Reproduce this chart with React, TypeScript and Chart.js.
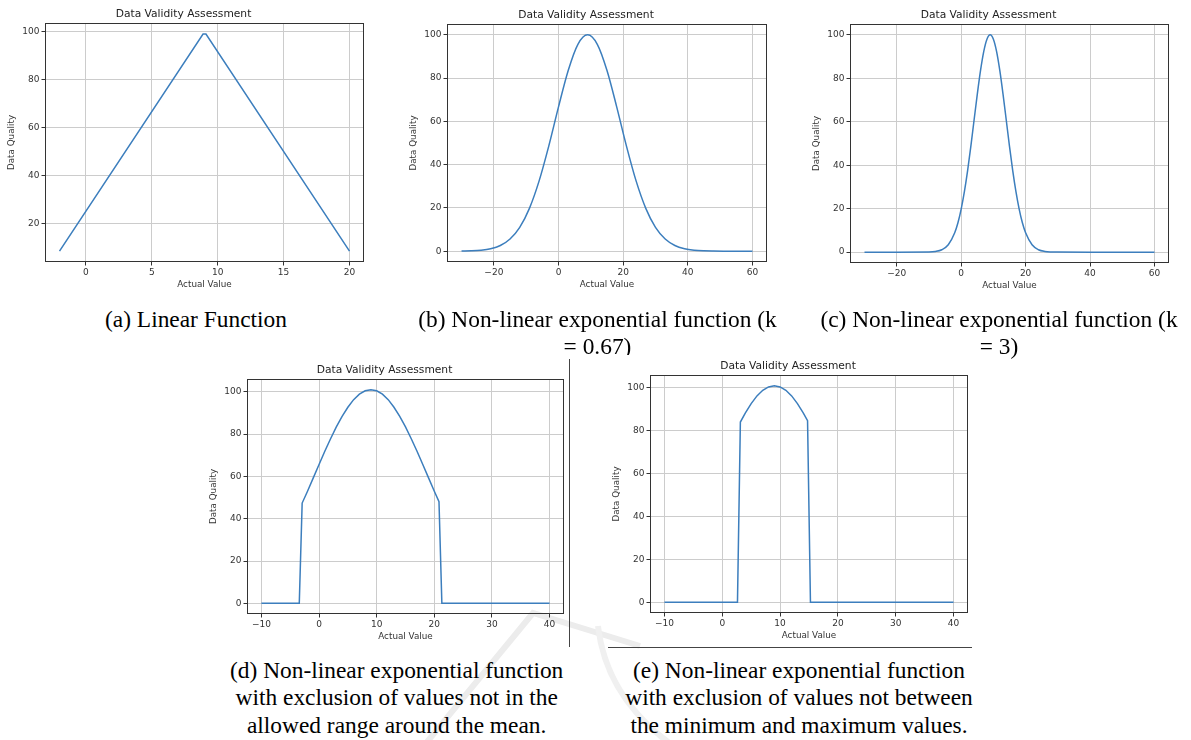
import React, { useEffect, useRef } from 'react';
import { Chart, registerables } from 'chart.js';

Chart.register(...registerables);
Chart.defaults.font.family = "'DejaVu Sans', sans-serif";

// ---------------- data ----------------
// (a) Linear function
const aX = [-2, 8.89, 9.11, 20];
const aY = [8.3, 99.1, 99.1, 8.3];

// (b) Non-linear exponential function (k = 0.67)
const bX = [-30, -27, -24, -21, -18, -15, -12, -9, -6, -3, 0, 3, 6, 9, 12, 15, 18, 21, 24, 27, 30, 33, 36, 39, 42, 45, 48, 51, 54, 57, 60];
const bY = [0.05, 0.15, 0.43, 1.11, 2.61, 5.6, 11.0, 19.8, 32.5, 48.7, 66.7, 83.5, 95.6, 100, 95.6, 83.5, 66.7, 48.7, 32.5, 19.8, 11.0, 5.6, 2.61, 1.11, 0.43, 0.15, 0.05, 0.01, 0, 0, 0];

// (c) Non-linear exponential function (k = 3)
const cX = [-30, -20, -10, -8, -6, -4, -2, -1, 0, 1, 2, 3, 4, 5, 6, 7, 8, 9, 10, 11, 12, 13, 14, 15, 16, 17, 18, 19, 20, 22, 24, 26, 28, 30, 40, 50, 60];
const cY = [0, 0, 0.07, 0.31, 1.11, 3.4, 8.9, 13.5, 19.8, 27.8, 37.5, 48.7, 60.7, 72.6, 83.5, 92.3, 98.0, 100, 98.0, 92.3, 83.5, 72.6, 60.7, 48.7, 37.5, 27.8, 19.8, 13.5, 8.9, 3.4, 1.11, 0.31, 0.07, 0.01, 0, 0, 0];

// (d) exclusion of values not in the allowed range around the mean
const dX = [-10, -3.43, -2.93, -2, -1, 0, 1, 2, 3, 4, 5, 6, 7, 8, 9, 10, 11, 12, 13, 14, 15, 16, 17, 18, 19, 20, 20.81, 21.31, 40];
const dY = [0, 0, 47.4, 53.0, 59.3, 65.6, 71.9, 77.8, 83.4, 88.4, 92.7, 96.3, 98.9, 100.5, 101, 100.5, 98.9, 96.3, 92.7, 88.4, 83.4, 77.8, 71.9, 65.6, 59.3, 53.0, 48.1, 0, 0];

// (e) exclusion of values not between the minimum and maximum values
const eX = [-10, 2.63, 3.13, 4, 5, 6, 7, 8, 9, 10, 11, 12, 13, 14, 14.75, 15.25, 40];
const eY = [0, 0, 84.1, 88.4, 92.7, 96.3, 98.9, 100.5, 101, 100.5, 98.9, 96.3, 92.7, 88.4, 84.7, 0, 0];

// tick values
const xTicksA = [0, 5, 10, 15, 20];
const yTicksA = [20, 40, 60, 80, 100];
const xTicksBC = [-20, 0, 20, 40, 60];
const xTicksDE = [-10, 0, 10, 20, 30, 40];
const yTicksBCDE = [0, 20, 40, 60, 80, 100];

// text
const chartTitle = 'Data Validity Assessment';
const xLabel = 'Actual Value';
const yLabel = 'Data Quality';

// ---------------- layout constants ----------------
const YW = 42; // y axis block width
const TH = 19; // title block height
const XH = 30; // x axis block height
const RP = 8; // right padding

const LINE_COLOR = '#3c7ebd';
const GRID_COLOR = '#cccccc';
const AXIS_COLOR = '#333333';

const fmt = (v: number) => String(v).replace('-', '\u2212');

const framePlugin = {
  id: 'frame',
  afterDraw(chart: any) {
    const { ctx, chartArea: a } = chart;
    ctx.save();
    ctx.strokeStyle = AXIS_COLOR;
    ctx.lineWidth = 1;
    ctx.strokeRect(Math.round(a.left) + 0.5, Math.round(a.top) + 0.5, Math.round(a.right - a.left) - 1, Math.round(a.bottom - a.top) - 1);
    ctx.restore();
  },
};

type Box = { l: number; t: number; w: number; h: number };

function Panel(props: {
  box: Box;
  xs: number[];
  ys: number[];
  xTicks: number[];
  yTicks: number[];
  xMin: number;
  xMax: number;
  yMin: number;
  yMax: number;
  smooth: boolean;
}) {
  const ref = useRef<HTMLCanvasElement>(null);
  const { box, xs, ys, xTicks, yTicks, xMin, xMax, yMin, yMax, smooth } = props;
  const W = YW + box.w + RP;
  const H = TH + box.h + XH;

  useEffect(() => {
    const tickFont = { size: 9 };
    const chart = new Chart(ref.current as HTMLCanvasElement, {
      type: 'scatter',
      data: {
        datasets: [
          {
            data: xs.map((x, i) => ({ x, y: ys[i] })),
            showLine: true,
            borderColor: LINE_COLOR,
            borderWidth: 1.5,
            pointRadius: 0,
            pointHoverRadius: 0,
            fill: false,
            tension: 0,
            cubicInterpolationMode: smooth ? 'monotone' : 'default',
          } as any,
        ],
      },
      options: {
        responsive: false,
        animation: false,
        events: [],
        layout: { padding: { top: 0, left: 0, right: RP, bottom: 0 } },
        plugins: {
          legend: { display: false },
          tooltip: { enabled: false },
          title: {
            display: true,
            text: chartTitle,
            color: '#222',
            font: { size: 10.7, weight: 'normal', lineHeight: 1.15 },
            padding: { top: 3.8, bottom: 2.9 },
          },
        },
        scales: {
          x: {
            type: 'linear',
            position: 'bottom',
            min: xMin,
            max: xMax,
            afterBuildTicks: (scale: any) => {
              scale.ticks = xTicks.map((v) => ({ value: v }));
            },
            afterFit: (scale: any) => {
              scale.height = XH;
            },
            grid: {
              color: GRID_COLOR,
              lineWidth: 1,
              drawTicks: true,
              tickLength: 3.5,
              tickColor: AXIS_COLOR,
            },
            border: { display: false },
            ticks: {
              font: tickFont,
              color: '#333',
              padding: 1.8,
              maxRotation: 0,
              autoSkip: false,
              callback: (v: any) => fmt(Number(v)),
            },
            title: {
              display: true,
              text: xLabel,
              color: '#333',
              font: { size: 8.8 },
              padding: { top: 0, bottom: 2.4 },
            },
          },
          y: {
            type: 'linear',
            position: 'left',
            min: yMin,
            max: yMax,
            afterBuildTicks: (scale: any) => {
              scale.ticks = yTicks.map((v) => ({ value: v }));
            },
            afterFit: (scale: any) => {
              scale.width = YW;
            },
            grid: {
              color: GRID_COLOR,
              lineWidth: 1,
              drawTicks: true,
              tickLength: 3.5,
              tickColor: AXIS_COLOR,
            },
            border: { display: false },
            ticks: {
              font: tickFont,
              color: '#333',
              padding: 2,
              autoSkip: false,
              callback: (v: any) => fmt(Number(v)),
            },
            title: {
              display: true,
              text: yLabel,
              color: '#333',
              font: { size: 8.8 },
              padding: { top: 3.7, bottom: 0 },
            },
          },
        },
      } as any,
      plugins: [framePlugin],
    });
    return () => chart.destroy();
  }, []);

  return (
    <canvas
      ref={ref}
      width={W}
      height={H}
      style={{ position: 'absolute', left: box.l - YW, top: box.t - TH, width: W, height: H }}
    />
  );
}

const captionStyle = (cx: number, top: number, w: number): React.CSSProperties => ({
  position: 'absolute',
  left: cx - w / 2,
  top,
  width: w,
  textAlign: 'center',
  fontFamily: "'Liberation Serif', 'Times New Roman', serif",
  fontSize: 23.4,
  lineHeight: '27.3px',
  color: '#000',
  whiteSpace: 'nowrap',
});

export default function App() {
  return (
    <div
      style={{
        position: 'fixed',
        left: 0,
        top: 0,
        width: 1191,
        height: 740,
        background: '#fff',
        overflow: 'hidden',
      }}
    >
      {/* faint page watermark */}
      <svg width={1191} height={740} style={{ position: 'absolute', left: 0, top: 0 }}>
        <path d="M 427 742 L 533 613 L 640 646" stroke="#ececec" strokeWidth={6} fill="none" />
        <path d="M 598 626 Q 606 695 668 742" stroke="#f0f0f0" strokeWidth={6} fill="none" />
      </svg>

      <Panel box={{ l: 45, t: 23, w: 319, h: 239 }} xs={aX} ys={aY} xTicks={xTicksA} yTicks={yTicksA}
        xMin={-3.1} xMax={21.1} yMin={3.75} yMax={103.75} smooth={false} />
      <Panel box={{ l: 447, t: 24, w: 320, h: 238 }} xs={bX} ys={bY} xTicks={xTicksBC} yTicks={yTicksBCDE}
        xMin={-34.5} xMax={64.5} yMin={-5} yMax={105} smooth={true} />
      <Panel box={{ l: 850, t: 24, w: 319, h: 239 }} xs={cX} ys={cY} xTicks={xTicksBC} yTicks={yTicksBCDE}
        xMin={-34.5} xMax={64.5} yMin={-5} yMax={105} smooth={true} />
      <Panel box={{ l: 247, t: 379, w: 317, h: 235 }} xs={dX} ys={dY} xTicks={xTicksDE} yTicks={yTicksBCDE}
        xMin={-12.5} xMax={42.5} yMin={-5.05} yMax={106.05} smooth={false} />
      <Panel box={{ l: 650, t: 375, w: 318, h: 238 }} xs={eX} ys={eY} xTicks={xTicksDE} yTicks={yTicksBCDE}
        xMin={-12.5} xMax={42.5} yMin={-5.05} yMax={106.05} smooth={false} />

      {/* captions */}
      <div style={captionStyle(196, 305.6, 300)}>(a) Linear Function</div>
      <div style={captionStyle(597.5, 305.6, 400)}>
        (b) Non-linear exponential function (k
        <br />= 0.67)
      </div>
      <div style={captionStyle(999, 305.6, 390)}>
        (c) Non-linear exponential function (k
        <br />= 3)
      </div>
      <div style={captionStyle(396.7, 657.2, 380)}>
        (d) Non-linear exponential function
        <br />with exclusion of values not in the
        <br />allowed range around the mean.
      </div>
      <div style={captionStyle(799, 657.2, 380)}>
        (e) Non-linear exponential function
        <br />with exclusion of values not between
        <br />the minimum and maximum values.
      </div>

      {/* clipping of the (b) caption second line by the lower figure */}
      <div style={{ position: 'absolute', left: 555, top: 355, width: 85, height: 10, background: '#fff' }} />

      {/* page separator rules */}
      <div style={{ position: 'absolute', left: 569, top: 359, width: 1, height: 288, background: '#444' }} />
      <div style={{ position: 'absolute', left: 608, top: 647, width: 364, height: 1, background: '#444' }} />
    </div>
  );
}
